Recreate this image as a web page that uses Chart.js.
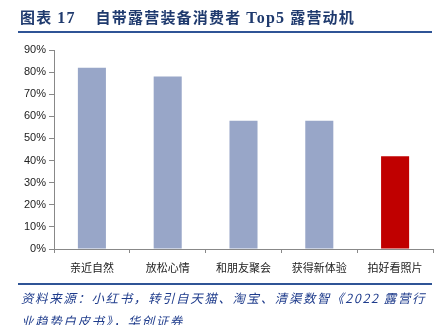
<!DOCTYPE html>
<html>
<head>
<meta charset="utf-8">
<script src="https://cdn.jsdelivr.net/npm/chart.js@4"></script>
<style>
  html, body { margin: 0; padding: 0; background: #fff; }
  body { width: 443px; height: 325px; position: relative; overflow: hidden; }
  #chart { position: absolute; left: 0; top: 0; }
  .title {
    position: absolute; left: 20px; top: 6px; white-space: nowrap;
    font-family: "Liberation Serif", "Noto Sans CJK SC", serif;
    font-weight: bold; font-size: 15px; color: #1F3A6E; letter-spacing: 1.2px;
  }
  .title .cjk { font-family: "Noto Sans CJK SC", sans-serif; }
  .title .num { font-size: 16px; }
  .rule { position: absolute; left: 18px; width: 414px; height: 2px; background: #2F5496; }
  .source {
    position: absolute; left: 21px; white-space: nowrap;
    font-family: "Noto Sans CJK SC", sans-serif; font-style: italic;
    font-size: 12.5px; color: #1F3C8C; letter-spacing: 1.6px;
  }
</style>
</head>
<body>
<canvas id="chart" width="443" height="325"></canvas>
<div class="title"><span class="cjk">图表</span> <span class="num">17</span>&nbsp;&nbsp;&nbsp; <span class="cjk">自带露营装备消费者</span> <span class="num">Top5</span> <span class="cjk">露营动机</span></div>
<div class="rule" style="top:31px"></div>
<div class="rule" style="top:283px"></div>
<div class="source" style="top:288px">资料来源：小红书，转引自天猫、淘宝、清渠数智《2022 露营行</div>
<div class="source" style="top:311px">业趋势白皮书》，华创证券</div>
<script>
// Top 5 camping motivations of consumers who bring their own gear
const categories = ["亲近自然", "放松心情", "和朋友聚会", "获得新体验", "拍好看照片"];
const shares = [82, 78, 58, 58, 42];
const barColors = ["#98A6C8", "#98A6C8", "#98A6C8", "#98A6C8", "#C00000"];
const yTicks = [0, 10, 20, 30, 40, 50, 60, 70, 80, 90];

new Chart(document.getElementById("chart"), {
  type: "bar",
  data: {
    labels: categories,
    datasets: [{
      data: shares,
      backgroundColor: barColors,
      borderWidth: 0,
      categoryPercentage: 1,
      barPercentage: 0.37
    }]
  },
  options: {
    responsive: false,
    animation: false,
    layout: { padding: { top: 50, right: 10, left: 0, bottom: 0 } },
    plugins: { legend: { display: false }, tooltip: { enabled: false } },
    scales: {
      x: {
        afterFit: s => { s.height = 76; },
        border: { display: true, color: "#888888", width: 1 },
        grid: { offset: true, drawOnChartArea: false, drawTicks: true, tickLength: 4, color: "#888888" },
        ticks: { color: "#222", padding: 8, font: { family: "Noto Sans CJK SC", size: 11 } }
      },
      y: {
        min: 0, max: 90,
        afterFit: s => { s.width = 54; },
        afterBuildTicks: s => { s.ticks = yTicks.map(v => ({ value: v })); },
        border: { display: true, color: "#888888", width: 1 },
        grid: { drawOnChartArea: false, drawTicks: true, tickLength: 5, color: "#888888" },
        ticks: {
          color: "#222", padding: 3,
          font: { family: "Liberation Sans", size: 11 },
          callback: v => v + "%"
        }
      }
    }
  }
});
</script>
</body>
</html>
